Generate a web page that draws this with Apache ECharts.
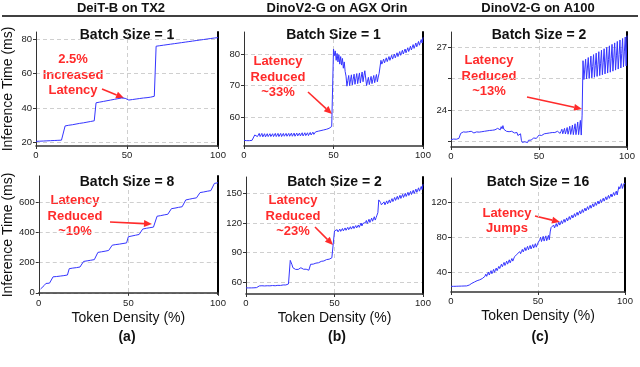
<!DOCTYPE html>
<html>
<head>
<meta charset="utf-8">
<script src="https://cdn.jsdelivr.net/npm/echarts@6/dist/echarts.min.js"></script>
<style>
  html, body { margin: 0; padding: 0; background: #fff; }
  #chart { width: 640px; height: 367px; }
</style>
</head>
<body>
<div id="chart"></div>
<script>
// token density step of each measured series (%)
const coarseStep = 1;
const fineStep = 0.5;

// DeiT-B on TX2, batch size 1 (ms), x = 0..100 step 1
const deitBs1 = [
  20.5, 20.5, 20.6, 20.6, 20.7, 20.7, 20.8, 20.8, 20.9, 20.9, 21.0, 21.0, 21.1, 21.1, 21.2, 21.3,
  29.5, 29.7, 29.9, 30.1, 30.2, 30.4, 30.6, 30.8, 31.0, 31.1, 31.3, 31.5, 31.7, 31.9, 32.1, 32.3, 32.5,
  43.0, 43.2, 43.4, 43.6, 43.8, 44.0, 44.2, 44.4, 44.6, 44.8, 45.0, 45.2, 45.4, 45.6, 45.8, 46.2,
  45.6,
  44.5, 44.6, 44.8, 44.9, 45.1, 45.2, 45.3, 45.5, 45.6, 45.8, 45.9, 46.0, 46.2, 46.3, 46.5, 46.8,
  76.0, 76.1, 76.3, 76.4, 76.6, 76.7, 76.9, 77.0, 77.2, 77.3, 77.5, 77.6, 77.8, 77.9, 78.1, 78.2, 78.4,
  78.5, 78.7, 78.8, 79.0, 79.1, 79.3, 79.4, 79.6, 79.7, 79.9, 80.0, 80.2, 80.3, 80.5, 80.6, 80.8, 80.9, 81.0
];

// DeiT-B on TX2, batch size 8 (ms), x = 0..100 step 1
const deitBs8 = [
  null, 25, 38, 48, 62, 63, 64, 66,
  106, 107, 108, 110, 111, 112, 114, 116, 118,
  160, 162, 164, 165, 167, 169, 171, 173,
  208, 210, 212, 214, 216, 218, 220, 222,
  268, 270, 272, 274, 276, 278, 281, 284,
  316, 318, 320, 321, 323, 325, 327, 329, 331,
  372, 374, 377, 379, 382, 384, 387, 389,
  423, 426, 428, 430, 432, 434, 436, 438,
  508, 510, 512, 515, 517, 519, 521, 524,
  558, 560, 562, 565, 567, 569, 571, 574,
  616, 618, 621, 623, 626, 628, 630, 633,
  665, 667, 669, 671, 674, 676, 678, 681,
  726, 728, 730
];

// DinoV2-G on AGX Orin, batch size 1 (ms), x = 0..100 step 0.5
const agxBs1 = [
  52.6, 52.5, 52.5, 52.5, 52.4, 52.5, 52.5, 52.5, 52.5, 52.6, 52.6, 52.7,
  54.3, 54.6, 54.8,
  53.8, 54.3, 54.8, 53.8, 54.3, 54.8, 53.7, 54.2, 54.7, 53.7, 54.2, 54.7,
  53.8, 54.3, 54.7, 53.8, 54.3, 54.7, 53.8, 54.3, 54.8, 53.8, 54.3, 54.8,
  53.8, 54.3, 54.8, 53.8, 54.3, 54.8, 53.9, 54.4, 54.8, 53.9, 54.4, 54.8,
  53.9, 54.4, 54.9, 53.9, 54.4, 54.9, 53.9, 54.4, 54.9, 54.0, 54.5, 54.9,
  54.0, 54.5, 55.0, 54.0, 54.5, 55.0, 54.1, 54.6, 55.0, 54.1, 54.6, 55.1,
  54.3, 54.8, 55.2, 54.5, 54.9, 55.3, 54.7, 55.1, 55.5, 54.9, 55.3, 55.7,
  55.1, 55.5, 55.9, 55.3, 55.7, 56.1, 55.5, 55.9, 56.4, 55.8, 56.3, 57.0,
  56.5,
  81.6, 79.5, 81.0, 78.0, 80.2, 77.5, 79.8, 76.8, 79.2, 76.5, 78.6, 75.5, 77.5, 74.5, 73.0,
  69.8, 71.6, 73.2, 70.0, 71.8, 73.4, 70.2, 72.0, 73.6, 70.4, 72.2, 73.8,
  70.6, 72.4, 74.0, 70.8, 72.7, 74.3, 71.2, 73.1, 74.7, 75.1,
  70.0, 71.4, 72.6, 70.3, 71.7, 72.9, 70.6, 72.0, 73.2, 70.9, 72.3, 73.5, 71.2, 72.7, 73.9, 74.2,
  78.0,
  76.8, 77.6, 78.4, 77.2, 78.0, 78.8, 77.6, 78.4, 79.2, 78.0, 78.8, 79.6,
  78.4, 79.2, 80.0, 78.8, 79.6, 80.4, 79.2, 80.0, 80.8, 79.6, 80.4, 81.2,
  80.0, 80.8, 81.6, 80.4, 81.2, 82.0, 80.8, 81.6, 82.5, 81.3, 82.1, 83.0,
  81.8, 82.6, 83.5, 82.3, 83.1, 84.0, 82.8, 83.7, 84.6, 83.5, 85.3
];

// DinoV2-G on A100, batch size 2 (ms), x = 0..100 step 0.5
const a100Bs2 = [
  22.58, 22.60, 22.62, 22.61, 22.64, 22.62, 22.60, 22.63, 22.66, 22.64,
  22.70, 22.88, 22.92, 22.86, 22.95, 22.90, 23.00, 22.94, 22.98, 22.92,
  22.96, 22.90, 22.94, 22.98, 22.92, 22.96, 22.90, 22.94, 22.99, 22.95,
  22.97, 23.00, 22.94, 22.98, 23.02, 22.96, 23.00, 23.04, 22.98, 23.02,
  23.05, 23.00, 23.03, 23.08, 23.02, 23.06, 23.10, 23.03, 23.07, 23.12,
  23.05, 23.10, 23.06, 23.12, 23.08, 23.15, 23.05, 23.20, 23.10, 23.25,
  23.08, 23.02, 23.06, 22.98, 23.04, 23.00, 22.96, 23.02, 22.94, 22.98,
  22.92, 22.96, 22.90, 22.94, 22.88, 22.92, 22.78, 22.85, 22.80, 22.86,
  22.55, 22.45, 22.50, 22.40, 22.48, 22.42, 22.52, 22.44, 22.55, 22.50,
  22.60, 22.56, 22.62, 22.58, 22.66, 22.60, 22.70, 22.64, 22.72, 22.68,
  22.80, 22.76, 22.82, 22.78, 22.84, 22.80, 22.86, 22.82, 22.85, 22.88,
  22.84, 22.88, 22.90, 22.86, 22.90, 22.92, 22.88, 22.94, 22.92, 22.96,
  22.94, 22.98, 22.95, 23.02,
  22.88, 22.98, 23.08, 22.86, 22.99, 23.12, 22.85, 23.00, 23.16, 22.84, 23.02, 23.22,
  22.83, 23.04, 23.28, 22.82, 23.07, 23.34, 22.82, 23.10, 23.42, 22.82, 23.14, 23.50,
  22.80, 23.75,
  26.35,
  25.45, 25.95, 26.42, 25.48, 26.00, 26.50, 25.50, 26.04, 26.57, 25.53, 26.08, 26.64,
  25.56, 26.13, 26.71, 25.60, 26.18, 26.78, 25.64, 26.23, 26.85, 25.68, 26.28, 26.92,
  25.72, 26.34, 26.99, 25.76, 26.40, 27.06, 25.80, 26.46, 27.13, 25.85, 26.52, 27.20,
  25.90, 26.58, 27.27, 25.95, 26.64, 27.34, 26.00, 26.70, 27.41, 26.05, 26.77, 27.48,
  26.10, 27.55
];

// DinoV2-G on AGX Orin, batch size 2 (ms), x = 0..100 step 0.5
const agxBs2 = [
  54.0, 54.0, 54.1, 54.0, 54.1, 54.1, 54.0, 54.1, 54.1, 54.1,
  54.2, 54.2, 54.3, 55.8, 56.2, 56.0, 56.3, 56.1, 56.2, 56.0,
  56.2, 56.0, 56.3, 56.1, 56.2, 56.0, 56.3, 56.1, 56.3, 56.1,
  56.4, 56.2, 56.4, 56.2, 56.5, 56.3, 56.6, 56.4, 56.7, 56.5,
  56.8, 56.6, 57.0, 56.8, 57.2, 57.0, 57.5, 57.3, 58.0, 58.6,
  82.0, 80.0, 77.5, 74.5, 72.5, 73.5, 72.8, 73.0, 73.6, 72.8,
  74.0, 73.2, 74.5, 73.5, 75.0, 73.0, 74.2, 72.0, 73.0, 71.8,
  72.5, 72.0, 73.0, 78.0, 77.8, 78.4, 78.2, 78.8, 78.6, 79.2,
  79.0, 79.8, 79.6, 80.4, 80.2, 81.0, 80.8, 81.6, 81.4, 82.2,
  82.0, 82.8, 82.6, 83.4, 83.2, 84.0, 83.8, 84.6, 84.4, 85.2,
  112.0,
  110.5, 112.0, 113.2, 111.0, 112.5, 113.8, 111.5, 113.0, 114.4, 112.0, 113.5, 115.0,
  112.6, 114.1, 115.6, 113.2, 114.7, 116.2, 113.8, 115.3, 116.8, 114.4, 115.9, 117.4,
  115.0, 116.5, 118.0, 115.6, 117.2, 120.0, 117.0, 119.5, 121.5, 118.2, 120.5, 122.6,
  119.4, 121.6, 123.8, 120.6, 122.8, 125.0, 121.8, 124.0, 126.4, 123.0, 125.4, 128.0,
  130.5,
  143.5, 143.0, 141.0, 138.5,
  138.0, 139.8, 141.5, 138.5, 140.5, 142.5, 139.5, 141.5, 143.5, 140.5, 142.6, 144.8,
  141.8, 143.9, 146.0, 143.0, 145.0, 147.2, 144.0, 146.0, 148.2, 145.0, 147.0, 149.2,
  146.0, 148.0, 150.2, 147.0, 149.0, 151.2, 148.0, 150.0, 152.2, 149.0, 151.0, 153.3,
  150.0, 152.2, 154.5, 151.2, 153.4, 155.8, 152.4, 154.8, 157.2,
  154.0, 159.5
];

// DinoV2-G on A100, batch size 16 (ms), x = 0..100 step 0.5
const a100Bs16 = [
  23.5, 23.5, 23.6, 23.5, 23.6, 23.6, 23.6, 23.7, 23.7, 23.7,
  23.7, 23.8, 23.8, 23.8, 23.9, 23.9, 23.9, 24.0, 24.0, 24.0,
  24.0, 25.0, 26.5, 25.0, 27.0, 29.0, 26.5, 28.5, 30.5, 28.0, 30.0, 32.0,
  29.0, 31.0, 33.0, 30.5, 32.5, 34.5, 32.5, 35.0, 37.5, 35.0, 37.5, 40.0,
  36.5, 39.0, 41.5, 38.0, 40.5, 43.0, 39.5, 42.0, 44.5, 41.5, 44.0, 46.5,
  44.0, 46.5, 49.0, 46.0, 48.5, 51.0, 47.5, 50.0, 52.5, 49.0, 51.5, 54.0,
  50.5, 53.0, 55.5, 52.5, 55.0, 57.5, 55.5, 58.0, 60.5, 58.5, 61.0, 63.5,
  61.0, 63.5, 66.0, 63.0, 65.5, 68.0, 64.5, 67.0, 69.5, 65.5, 68.0, 70.5,
  66.5, 69.0, 71.5, 67.5, 70.0, 72.5, 68.5, 71.0, 73.5, 74.0, 77.0, 80.0,
  75.0, 78.0, 81.0, 75.5, 78.5, 81.5, 76.0, 79.0, 82.0, 77.0, 86.0, 91.0,
  89.0, 91.5, 94.0, 90.6, 93.1, 95.6, 92.2, 94.7, 97.2, 93.9, 96.4, 98.9,
  95.5, 98.0, 100.5, 97.1, 99.6, 102.1, 98.7, 101.2, 103.7, 100.3, 102.8, 105.3,
  102.0, 104.5, 107.0, 103.6, 106.1, 108.6, 105.2, 107.7, 110.2, 106.8, 109.3, 111.8,
  108.4, 110.9, 113.4, 110.1, 112.6, 115.1, 111.7, 114.2, 116.7, 113.3, 115.8, 118.3,
  114.9, 117.4, 119.9, 116.5, 119.0, 121.5, 118.2, 120.7, 123.2, 119.8, 122.3, 124.8,
  121.4, 123.9, 126.4, 123.0, 125.5, 128.0, 124.6, 127.1, 129.6, 126.3, 128.8, 131.3,
  127.9, 130.4, 132.9, 128.5, 133.5, 138.0, 135.5, 138.5, 141.5, 136.0, 139.0, 142.0,
  141.5
];

const columnTitles = ['DeiT-B on TX2', 'DinoV2-G on AGX Orin', 'DinoV2-G on A100'];
const panelTitles = ['Batch Size = 1', 'Batch Size = 1', 'Batch Size = 2',
                     'Batch Size = 8', 'Batch Size = 2', 'Batch Size = 16'];
const subLabels = ['(a)', '(b)', '(c)'];
const yGridTicks = [[20, 40, 60, 80], [60, 70, 80], [22.5, 24, 25.5, 27],
                    [0, 200, 400, 600], [60, 90, 120, 150], [40, 80, 120]];
const yLabelTicks = [[20, 40, 60, 80], [60, 70, 80], [24, 27],
                     [0, 200, 400, 600], [60, 90, 120, 150], [40, 80, 120]];
const annotations = ['2.5%\nIncreased\nLatency', 'Latency\nReduced\n~33%', 'Latency\nReduced\n~13%',
                     'Latency\nReduced\n~10%', 'Latency\nReduced\n~23%', 'Latency\nJumps'];

// panel order: top row a,b,c then bottom row a,b,c
const panelSeries = [
  { values: deitBs1, step: coarseStep },
  { values: agxBs1, step: fineStep },
  { values: a100Bs2, step: fineStep },
  { values: deitBs8, step: coarseStep },
  { values: agxBs2, step: fineStep },
  { values: a100Bs16, step: fineStep }
];

// layout
const grids = [
  { left: 36, top: 32, width: 182, height: 114 },
  { left: 244, top: 32, width: 179, height: 114 },
  { left: 451, top: 32, width: 176, height: 115 },
  { left: 36, top: 176, width: 182, height: 118 },
  { left: 246, top: 177, width: 177, height: 117 },
  { left: 451, top: 178, width: 174, height: 114 }
];
const yRanges = [[17.8, 84.3], [50.8, 87], [22.23, 27.72], [-8, 775], [47.8, 166.8], [17, 148]];
const annoPos = [[73, 75], [278, 77], [489, 76], [75, 216], [293, 216], [507, 221]];
const arrowPos = [
  [102, 89, 124, 98], [308, 92, 332, 114], [527, 97, 582, 109],
  [110, 222, 152, 224], [315, 227, 333, 245], [535, 216, 560, 222]
];

const RED = '#ff2b2b';
const LINE_BLUE = '#3535ff';
const FONT = '"Liberation Sans", Arial, sans-serif';

function arrow(x1, y1, x2, y2) {
  const ang = Math.atan2(y2 - y1, x2 - x1);
  const len = 8, half = 3.5;
  const bx = x2 - len * Math.cos(ang), by = y2 - len * Math.sin(ang);
  const px = -Math.sin(ang) * half, py = Math.cos(ang) * half;
  return [
    { type: 'line', shape: { x1: x1, y1: y1, x2: bx, y2: by }, style: { stroke: RED, lineWidth: 1.6 } },
    { type: 'polygon', shape: { points: [[x2, y2], [bx + px, by + py], [bx - px, by - py]] }, style: { fill: RED } }
  ];
}

const xAxes = [], yAxes = [], series = [], graphics = [];

grids.forEach((g, i) => {
  const bottomRow = i >= 3;
  xAxes.push({
    type: 'value', gridIndex: i, min: 0, max: 100, interval: 50,
    name: bottomRow ? 'Token Density (%)' : '',
    nameLocation: 'middle', nameGap: 17,
    nameTextStyle: { fontFamily: FONT, fontSize: 14, color: '#111' },
    axisLine: { lineStyle: { color: '#333', width: 1.6 } },
    axisTick: { show: true, length: 3, lineStyle: { color: '#333' } },
    axisLabel: { fontFamily: FONT, fontSize: 9.5, color: '#222', margin: 4 },
    splitLine: { show: true, lineStyle: { color: '#cfcfcf', type: [4, 3] } }
  });
  yAxes.push({
    type: 'value', gridIndex: i, min: yRanges[i][0], max: yRanges[i][1],
    name: i % 3 === 0 ? 'Inference Time (ms)' : '',
    nameLocation: 'middle', nameGap: 21, nameRotate: 90,
    nameTextStyle: { fontFamily: FONT, fontSize: 14, color: '#111' },
    axisLine: { show: true, lineStyle: { color: '#333', width: 1 } },
    axisTick: { show: true, length: 3, customValues: yGridTicks[i], lineStyle: { color: '#333' } },
    axisLabel: { fontFamily: FONT, fontSize: 9.5, color: '#222', margin: 4, customValues: yLabelTicks[i] },
    splitLine: { show: true, lineStyle: { color: '#cfcfcf', type: [4, 3] } }
  });
  // right-hand frame line
  yAxes.push({
    type: 'value', gridIndex: i, position: 'right', min: 0, max: 1,
    axisLine: { show: true, lineStyle: { color: '#000', width: 2 } },
    axisTick: { show: false }, axisLabel: { show: false }, splitLine: { show: false }
  });
  const p = panelSeries[i];
  series.push({
    type: 'line', xAxisIndex: i, yAxisIndex: i * 2,
    data: p.values.map((v, k) => [k * p.step, v]),
    showSymbol: false, connectNulls: false,
    lineStyle: { color: LINE_BLUE, width: 1 },
    itemStyle: { color: LINE_BLUE },
    animation: false
  });
  // panel title
  graphics.push({
    type: 'text', x: g.left + g.width / 2, y: bottomRow ? 182 : 35,
    style: { text: panelTitles[i], fontFamily: FONT, fontSize: 14, fontWeight: 'bold', fill: '#111',
             align: 'center', verticalAlign: 'middle' }
  });
  // annotation
  graphics.push({
    type: 'text', x: annoPos[i][0], y: annoPos[i][1],
    style: { text: annotations[i], fontFamily: FONT, fontSize: 13, fontWeight: 'bold', fill: RED,
             align: 'center', verticalAlign: 'middle', lineHeight: 15.5 }
  });
  graphics.push(...arrow(...arrowPos[i]));
});

const colCenters = [121, 337, 538];
const labelCenters = [127, 337, 540];
columnTitles.forEach((t, c) => {
  graphics.push({
    type: 'text', x: colCenters[c], y: 8,
    style: { text: t, fontFamily: FONT, fontSize: 13, fontWeight: 'bold', fill: '#111',
             align: 'center', verticalAlign: 'middle' }
  });
  graphics.push({
    type: 'text', x: labelCenters[c], y: 337,
    style: { text: subLabels[c], fontFamily: FONT, fontSize: 14, fontWeight: 'bold', fill: '#111',
             align: 'center', verticalAlign: 'middle' }
  });
});
graphics.push({
  type: 'line', shape: { x1: 2, y1: 16, x2: 638, y2: 16 },
  style: { stroke: '#000', lineWidth: 1.5 }
});

const chart = echarts.init(document.getElementById('chart'), null, { renderer: 'canvas' });
chart.setOption({
  animation: false,
  backgroundColor: '#fff',
  grid: grids,
  xAxis: xAxes,
  yAxis: yAxes,
  series: series,
  graphic: graphics
});
</script>
</body>
</html>
